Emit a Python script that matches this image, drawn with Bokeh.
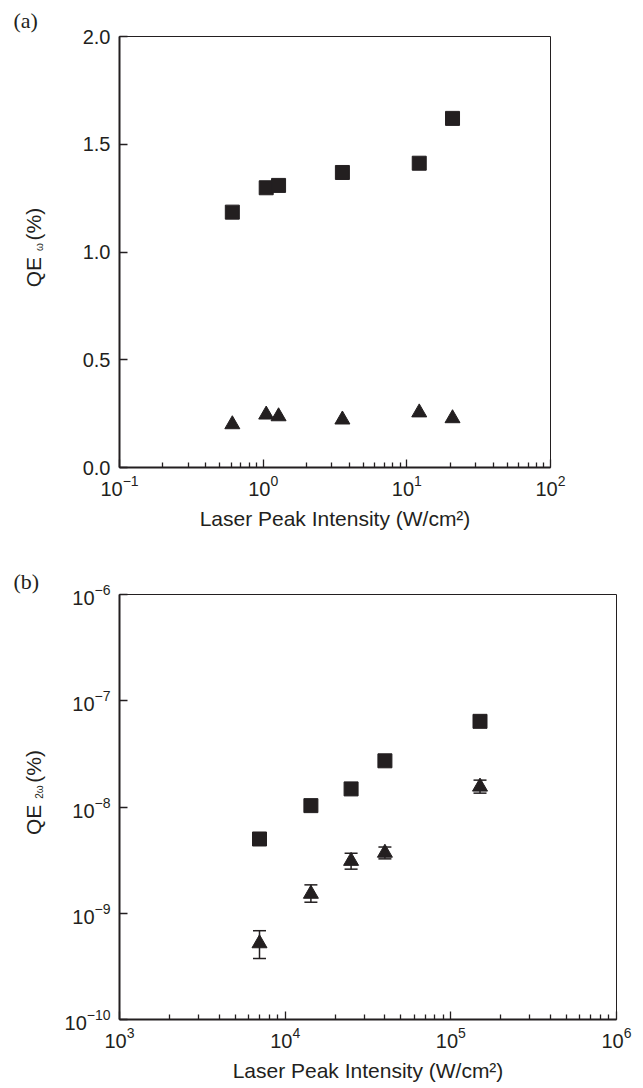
import math
from bokeh.plotting import figure
from bokeh.models import (FixedTicker, PrintfTickFormatter, Whisker,
                          ColumnDataSource, TeeHead, LogTickFormatter)
from bokeh.core.properties import value
from bokeh.layouts import column, row
from bokeh.embed import file_html
from bokeh.resources import INLINE

# ---------------- data ----------------
# panel (a)
intensity_a = [0.61, 1.05, 1.28, 3.56, 12.2, 20.8]
qe_w_square = [1.185, 1.298, 1.309, 1.369, 1.412, 1.62]
qe_w_triangle = [0.20, 0.245, 0.237, 0.222, 0.255, 0.228]
# panel (b)
intensity_b = [7000, 14300, 25000, 40000, 150000]
qe_2w_square = [5.0e-9, 1.03e-8, 1.48e-8, 2.72e-8, 6.4e-8]
qe_2w_triangle = [5.2e-10, 1.52e-9, 3.1e-9, 3.7e-9, 1.55e-8]
qe_2w_tri_low = [3.75e-10, 1.27e-9, 2.6e-9, 3.25e-9, 1.35e-8]
qe_2w_tri_high = [6.85e-10, 1.85e-9, 3.67e-9, 4.2e-9, 1.79e-8]

ya_ticks = [0.0, 0.5, 1.0, 1.5, 2.0]
xa_decades = [0.1, 1, 10, 100]
xb_decades = [1e3, 1e4, 1e5, 1e6]
yb_decades = [1e-10, 1e-9, 1e-8, 1e-7, 1e-6]

INK = "#231f20"
SANS = "Liberation Sans"
SERIF = "Liberation Serif"
FS = 20
LFS = 21      # axis label size
SUB = 10      # subscript size

SIDE_W = 55
FRAME_LEFT = 119
FW_A, FH_A = 431, 431
FW_B, FH_B = 497, 425
TOP_A, BOT_A = 36, 98
TOP_B, BOT_B = 28, 60


def minor_of(decades):
    out = []
    for d in decades[:-1]:
        out += [d * m for m in range(2, 10)]
    return out


def style(p):
    p.outline_line_color = INK
    p.outline_line_width = 1
    p.xgrid.visible = False
    p.ygrid.visible = False
    p.background_fill_color = "white"
    p.border_fill_color = "white"
    for ax in (p.xaxis[0], p.yaxis[0]):
        ax.axis_line_color = INK
        ax.axis_line_width = 2
        ax.major_tick_in = 8
        ax.major_tick_out = 0
        ax.minor_tick_in = 5
        ax.minor_tick_out = 0
        ax.major_tick_line_color = INK
        ax.minor_tick_line_color = INK
        ax.major_tick_line_width = 1.3
        ax.minor_tick_line_width = 1.3
        ax.major_label_text_font = SANS
        ax.major_label_text_font_size = f"{FS}px"
        ax.major_label_text_color = INK
        ax.axis_label_text_font = SANS
        ax.axis_label_text_font_size = f"{LFS}px"
        ax.axis_label_text_font_style = "normal"
        ax.axis_label_text_color = INK
    p.yaxis[0].minor_tick_line_color = None
    p.xaxis[0].major_label_standoff = 7
    p.yaxis[0].major_label_standoff = 9
    p.xaxis[0].axis_label_standoff = 8


# Liberation Sans advance widths (em)
W = {'Q': 0.778, 'E': 0.667, ' ': 0.278, '(': 0.333, '%': 0.889, ')': 0.333,
     '2': 0.556, 'ω': 0.781}


def tw(s, fs):
    return sum(W[c] for c in s) * fs


def side_figure(fh, top, bottom, tag, tag_standoff):
    # same vertical structure as the main figure; data units = frame pixels
    s = figure(frame_width=SIDE_W, frame_height=fh, x_range=(0, SIDE_W), y_range=(0, fh),
               min_border_left=0, min_border_right=0, min_border_top=top,
               min_border_bottom=bottom, x_axis_location=None, y_axis_location=None,
               title=tag, output_backend="svg", toolbar_location=None)
    s.title.align = "left"
    s.title.offset = 13
    s.title.vertical_align = "bottom"
    s.title.standoff = tag_standoff
    s.title.text_font = SERIF
    s.title.text_font_size = "22px"
    s.title.text_font_style = "normal"
    s.title.text_color = INK
    s.outline_line_color = None
    s.xgrid.visible = False
    s.ygrid.visible = False
    s.background_fill_color = "white"
    s.border_fill_color = "white"
    return s


def vlabel(s, pieces, base_x, center_from_bottom):
    """pieces: (text, size, baseline shift, advance string)"""
    total = sum(tw(adv, fs) for _, fs, _, adv in pieces)
    y = center_from_bottom - total / 2
    for text, fs, dx, adv in pieces:
        s.text(x=[base_x + dx], y=[y], text=[text], angle=math.pi / 2,
               text_font=value(SANS), text_font_size=value(f"{fs}px"),
               text_color=INK, text_align="left", text_baseline="alphabetic")
        y += tw(adv, fs)


# ---------------- panel (a) ----------------
p1 = figure(x_axis_type="log", x_range=(0.1, 100), y_range=(0, 2),
            frame_width=FW_A, frame_height=FH_A,
            min_border_left=FRAME_LEFT - SIDE_W, min_border_top=TOP_A,
            min_border_bottom=BOT_A, min_border_right=20,
            output_backend="svg", toolbar_location=None)
style(p1)
p1.xaxis[0].ticker = FixedTicker(ticks=xa_decades, minor_ticks=minor_of(xa_decades))
p1.xaxis[0].formatter = LogTickFormatter()
p1.yaxis[0].ticker = FixedTicker(ticks=ya_ticks, minor_ticks=[])
p1.yaxis[0].formatter = PrintfTickFormatter(format="%.1f")
p1.xaxis[0].axis_label = "Laser Peak Intensity (W/cm²)"

p1.scatter(intensity_a, qe_w_square, marker="square", size=14,
           fill_color=INK, line_color=INK, line_width=1)
p1.scatter(intensity_a, qe_w_triangle, marker="triangle", size=15,
           fill_color=INK, line_color=INK, line_width=1)

s1 = side_figure(FH_A, TOP_A, BOT_A, "(a)", 8)
vlabel(s1, [("QE", LFS, 0, "QE "), ("ω", SUB, 6, "ω "), ("(%)", LFS, 0, "(%)")],
       33, 467 - 247)

# ---------------- panel (b) ----------------
p2 = figure(x_axis_type="log", y_axis_type="log", x_range=(1e3, 1e6),
            y_range=(1e-10, 1e-6), frame_width=FW_B, frame_height=FH_B,
            min_border_left=FRAME_LEFT - SIDE_W, min_border_top=TOP_B,
            min_border_bottom=BOT_B, min_border_right=17,
            output_backend="svg", toolbar_location=None)
style(p2)
p2.xaxis[0].ticker = FixedTicker(ticks=xb_decades, minor_ticks=minor_of(xb_decades))
p2.xaxis[0].formatter = LogTickFormatter()
p2.yaxis[0].ticker = FixedTicker(ticks=yb_decades, minor_ticks=[])
p2.yaxis[0].formatter = LogTickFormatter()
p2.xaxis[0].axis_label = "Laser Peak Intensity (W/cm²)"

src = ColumnDataSource(dict(x=intensity_b, lo=qe_2w_tri_low, hi=qe_2w_tri_high))
p2.add_layout(Whisker(source=src, base="x", lower="lo", upper="hi",
                      dimension="height", line_color=INK, line_width=1.5,
                      upper_head=TeeHead(size=13, line_color=INK, line_width=1.5),
                      lower_head=TeeHead(size=13, line_color=INK, line_width=1.5)))
p2.scatter(intensity_b, qe_2w_square, marker="square", size=14,
           fill_color=INK, line_color=INK, line_width=1)
p2.scatter(intensity_b, qe_2w_triangle, marker="triangle", size=15,
           fill_color=INK, line_color=INK, line_width=1)

s2 = side_figure(FH_B, TOP_B, BOT_B, "(b)", 2)
vlabel(s2, [("QE", LFS, 0, "QE "), ("2ω", SUB, 6, "2ω "), ("(%)", LFS, 0, "(%)")],
       33, 1018 - 791)

layout = column(row(s1, p1), row(s2, p2))
open("out.html", "w").write(file_html(layout, INLINE))
